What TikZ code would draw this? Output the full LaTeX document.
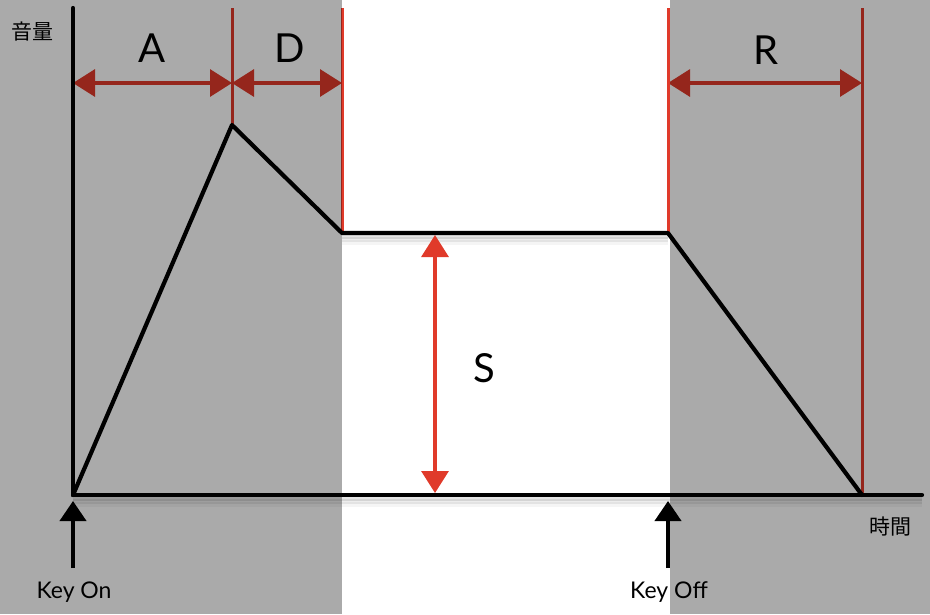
\documentclass[tikz,border=0pt]{standalone}
\usepackage{fontspec}
\setmainfont{Lato}
\newfontfamily\cjk{Noto Sans CJK JP}
\usetikzlibrary{arrows.meta}
\definecolor{envred}{HTML}{E03A2A}
\tikzset{
  redline/.style={draw=envred, line width=3pt},
  redarrow/.style={draw=envred, line width=3.2pt, {Triangle[length=22pt,width=27pt]}-{Triangle[length=22pt,width=27pt]}},
  blackline/.style={draw=black, line width=4.2pt, line join=round, line cap=round},
  keyarrow/.style={draw=black, line width=4pt, -{Triangle[length=20pt,width=26pt]}},
  shade/.style={fill=black, fill opacity=0.333, draw=none},
  biglabel/.style={font=\fontsize{40}{40}\selectfont, inner sep=0pt},
  smalllabel/.style={font=\fontsize{23}{23}\selectfont, inner sep=0pt},
  cjklabel/.style={font=\cjk\fontsize{21}{21}\selectfont, inner sep=0pt},
}
\begin{document}
\begin{tikzpicture}[x=1pt,y=-1pt]
\useasboundingbox (0,0) rectangle (930,614);
\fill[white] (0,0) rectangle (930,614);
% key coordinates
\coordinate (o) at (73,495);
\coordinate (ytop) at (73,8);
\coordinate (xend) at (922,495);
\coordinate (peak) at (232,125);
\coordinate (sus1) at (342,233);
\coordinate (sus2) at (668,233);
\coordinate (rel) at (862,495);
\coordinate (t1) at (232,8);
\coordinate (t2) at (342,8);
\coordinate (t3) at (668,8);
\coordinate (t4) at (862,8);
\coordinate (a0) at (73,83);
\coordinate (a1) at (232,83);
\coordinate (a2) at (342,83);
\coordinate (a3) at (668,83);
\coordinate (a4) at (862,83);
\coordinate (stop) at (435,235);
\coordinate (sbot) at (435,493);
\coordinate (kon) at (73,568);
\coordinate (konTip) at (73,501);
\coordinate (koff) at (668,568);
\coordinate (koffTip) at (668,501);
% soft shadows
\foreach \d/\o in {3/0.10,6/0.07,9/0.04}{
  \draw[line width=5pt, draw=black, draw opacity=\o] ([yshift=-\d]sus1) -- ([yshift=-\d]sus2);
  \draw[line width=5pt, draw=black, draw opacity=\o] ([yshift=-\d]o) -- ([yshift=-\d]xend);
}
% red elements
\draw[redline] (t1) -- (peak);
\draw[redline] (t2) -- (sus1);
\draw[redline] (t3) -- (sus2);
\draw[redline] (t4) -- (rel);
\draw[redarrow] (a0) -- (a1);
\draw[redarrow] (a1) -- (a2);
\draw[redarrow] (a3) -- (a4);
\draw[redarrow] (stop) -- (sbot);
% gray overlay regions
\fill[shade] (0,0) rectangle (342,614);
\fill[shade] (670,0) rectangle (930,614);
% black axes and envelope
\draw[blackline] (ytop) -- (o);
\draw[blackline] (o) -- (xend);
\draw[blackline] (o) -- (peak) -- (sus1) -- (sus2) -- (rel);
\draw[keyarrow] (kon) -- (konTip);
\draw[keyarrow] (koff) -- (koffTip);
% labels
\node[biglabel] (lA) at (152,48) {A};
\node[biglabel] (lD) at (290,48) {D};
\node[biglabel] (lR) at (766,50) {R};
\node[biglabel] (lS) at (484,368) {S};
\node[cjklabel] (lvol) at (33,32) {音量};
\node[cjklabel] (ltime) at (890,527) {時間};
\node[smalllabel] (lon) at (74,592) {Key On};
\node[smalllabel] (loff) at (669,592) {Key Off};
\end{tikzpicture}
\end{document}
